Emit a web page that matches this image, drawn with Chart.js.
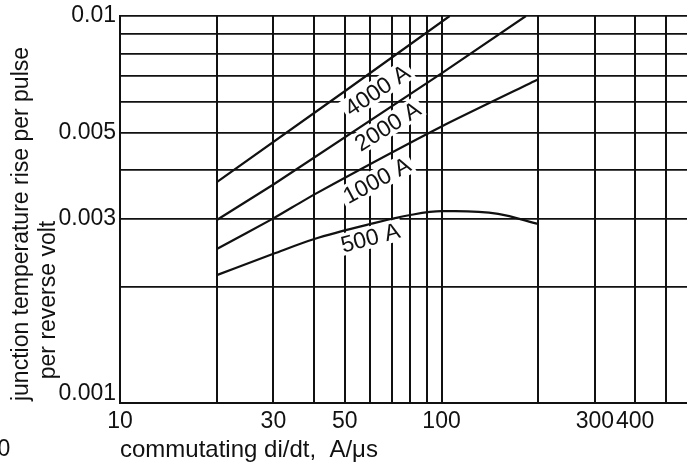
<!DOCTYPE html>
<html>
<head>
<meta charset="utf-8">
<script src="https://cdn.jsdelivr.net/npm/chart.js@4.4.1/dist/chart.umd.min.js"></script>
<style>
  html, body { margin: 0; padding: 0; background: #fff; }
  #wrap { width: 687px; height: 462px; }
</style>
</head>
<body>
<div id="wrap"><canvas id="c" width="687" height="462"></canvas></div>
<script>
// commutating di/dt (A/us) against junction temperature rise per pulse per reverse volt
var xTicks = [10, 20, 30, 40, 50, 60, 70, 80, 90, 100, 200, 300, 400, 500];
var xLabels = ['10', '30', '50', '100', '300', '400'];
var yTicks = [0.001, 0.002, 0.003, 0.004, 0.005, 0.006, 0.007, 0.008, 0.009, 0.01];
var yLabels = ['0.001', '0.003', '0.005', '0.01'];

var currents = ['4000 A', '2000 A', '1000 A', '500 A'];

var didt4000 = [20, 50, 106];
var rise4000 = [0.00372, 0.00639, 0.0100];

var didt2000 = [20, 30, 100, 183];
var rise2000 = [0.00297, 0.00367, 0.00711, 0.0100];

var didt1000 = [20, 30, 40, 100, 200];
var rise1000 = [0.00250, 0.00300, 0.00345, 0.00518, 0.00686];

var didt500 = [20, 30, 40, 60, 80, 100, 110, 150, 200];
var rise500 = [0.00214, 0.00243, 0.00265, 0.00290, 0.00306, 0.00313, 0.00313, 0.00308, 0.00290];

var INK = '#111';
var FONT = "'Liberation Sans', Arial, Helvetica, sans-serif";

function pts(xs, ys) {
  return xs.map(function (x, i) { return { x: x, y: ys[i] }; });
}

// where each curve's name sits (data coords) and its tilt in degrees
var curveTags = [
  { text: currents[0], x: 63.0, y: 0.00644, angle: -34 },
  { text: currents[1], x: 67.9, y: 0.00520, angle: -32 },
  { text: currents[2], x: 62.8, y: 0.00377, angle: -28 },
  { text: currents[3], x: 60.0, y: 0.00268, angle: -15 }
];

function tagFrame(chart, tag, fn) {
  var ctx = chart.ctx;
  var px = chart.scales.x.getPixelForValue(tag.x);
  var py = chart.scales.y.getPixelForValue(tag.y);
  ctx.save();
  ctx.translate(px, py);
  ctx.rotate(tag.angle * Math.PI / 180);
  ctx.font = '23px ' + FONT;
  fn(ctx);
  ctx.restore();
}

var tagsPlugin = {
  id: 'curveTags',
  beforeDatasetsDraw: function (chart) {
    // clear the grid behind each curve name
    curveTags.forEach(function (tag) {
      tagFrame(chart, tag, function (ctx) {
        var w = ctx.measureText(tag.text).width;
        ctx.fillStyle = '#fff';
        ctx.fillRect(-w / 2 - 3, -11, w + 6, 22);
      });
    });
  },
  afterDatasetsDraw: function (chart) {
    curveTags.forEach(function (tag) {
      tagFrame(chart, tag, function (ctx) {
        ctx.fillStyle = INK;
        ctx.textAlign = 'center';
        ctx.textBaseline = 'alphabetic';
        ctx.fillText(tag.text, 0, 8);
      });
    });
  },
  afterDraw: function (chart) {
    var ctx = chart.ctx;
    ctx.save();
    ctx.fillStyle = INK;
    ctx.font = '23px ' + FONT;
    ctx.textAlign = 'center';
    ctx.textBaseline = 'alphabetic';
    // two-line y title, each line placed on its own
    ctx.save();
    ctx.translate(28, 224);
    ctx.rotate(-Math.PI / 2);
    ctx.fillText('junction temperature rise per pulse', 0, 0);
    ctx.restore();
    ctx.save();
    ctx.translate(55, 300);
    ctx.rotate(-Math.PI / 2);
    ctx.fillText('per reverse volt', 0, 0);
    ctx.restore();
    ctx.textBaseline = 'middle';
    ctx.fillText('0', 4, 450);
    ctx.restore();
  }
};

Chart.defaults.font.family = FONT;
Chart.defaults.color = INK;

new Chart(document.getElementById('c'), {
  type: 'line',
  data: {
    datasets: [
      { label: currents[0], data: pts(didt4000, rise4000), tension: 0 },
      { label: currents[1], data: pts(didt2000, rise2000), tension: 0 },
      { label: currents[2], data: pts(didt1000, rise1000), tension: 0.2 },
      { label: currents[3], data: pts(didt500, rise500), cubicInterpolationMode: 'monotone' }
    ].map(function (ds) {
      ds.borderColor = INK;
      ds.borderWidth = 2.2;
      ds.pointRadius = 0;
      ds.fill = false;
      return ds;
    })
  },
  options: {
    responsive: false,
    animation: false,
    devicePixelRatio: 1,
    layout: { padding: { top: 16, right: 0, bottom: 0, left: 0 } },
    plugins: { legend: { display: false }, tooltip: { enabled: false } },
    scales: {
      x: {
        type: 'logarithmic',
        min: 10,
        max: 580,
        afterBuildTicks: function (scale) {
          scale.ticks = xTicks.map(function (v) { return { value: v }; });
        },
        afterFit: function (scale) { scale.height = 59; },
        grid: { color: INK, lineWidth: 2, drawTicks: false },
        border: { display: true, color: INK, width: 2 },
        ticks: {
          autoSkip: false,
          maxRotation: 0,
          padding: 5,
          font: { size: 23 },
          color: INK,
          callback: function (v) {
            var s = String(v);
            return xLabels.indexOf(s) >= 0 ? s : '';
          }
        },
        title: {
          display: true,
          text: 'commutating di/dt,  A/\u03bcs',
          align: 'start',
          color: INK,
          font: { size: 24, lineHeight: 1 },
          padding: { top: 0, bottom: 0 }
        }
      },
      y: {
        type: 'logarithmic',
        min: 0.001,
        max: 0.01,
        afterBuildTicks: function (scale) {
          scale.ticks = yTicks.map(function (v) { return { value: v }; });
        },
        afterFit: function (scale) { scale.width = 120; },
        grid: { color: INK, lineWidth: 1.7, drawTicks: false },
        border: { display: true, color: INK, width: 2 },
        ticks: {
          autoSkip: false,
          padding: 4,
          font: { size: 23, lineHeight: 0.8 },
          color: INK,
          callback: function (v) {
            var s = String(v);
            if (s === '0.001') return ['0.001', ''];
            return yLabels.indexOf(s) >= 0 ? s : '';
          }
        }
      }
    }
  },
  plugins: [tagsPlugin]
});
</script>
</body>
</html>
